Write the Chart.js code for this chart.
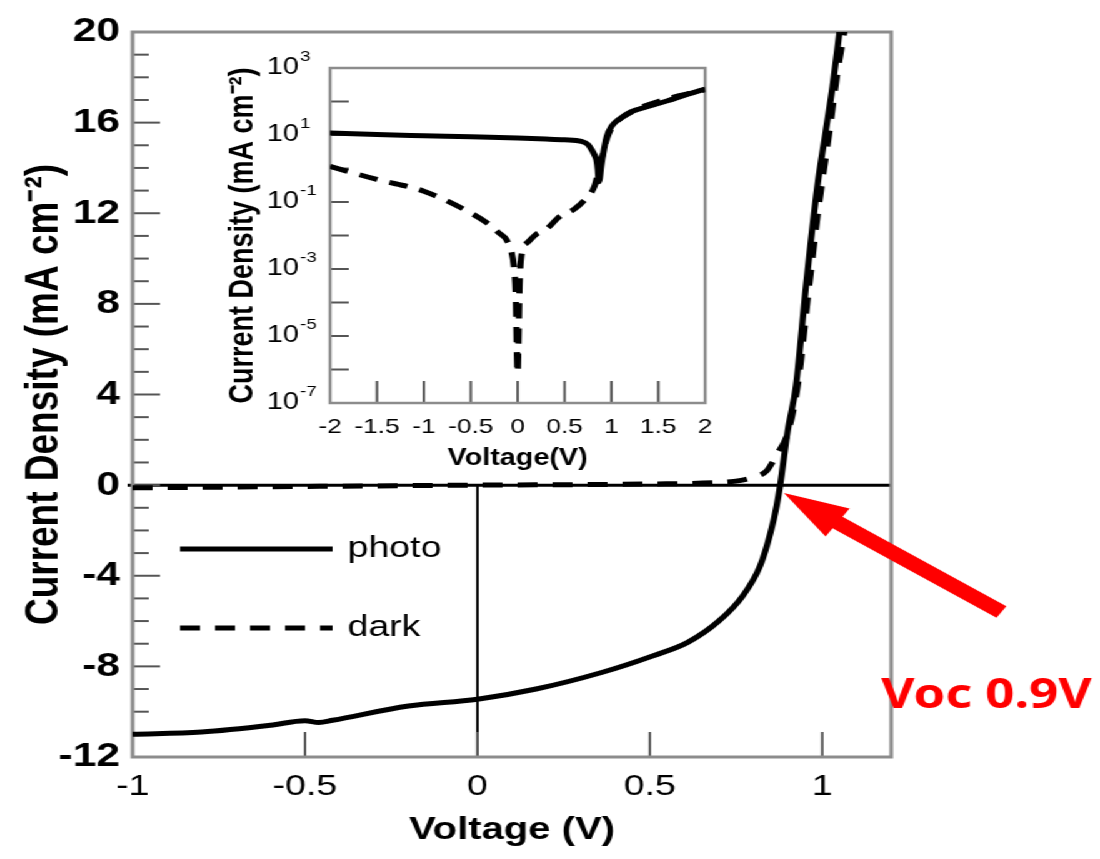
<!DOCTYPE html>
<html>
<head>
<meta charset="utf-8">
<title>Current density vs voltage</title>
<script src="https://cdn.jsdelivr.net/npm/chart.js@4.4.1/dist/chart.umd.min.js"></script>
<style>
  html, body { margin: 0; padding: 0; background: #fff; overflow: hidden; }
  /* the original figure is stretched horizontally */
  #stage { position: absolute; left: 0; top: 0; width: 880px; height: 859px; transform: scaleX(1.25); transform-origin: 0 0; }
  #main { position: absolute; left: 0; top: 0; }
  #inset { position: absolute; left: 172px; top: 40px; }
</style>
</head>
<body>
<div id="stage">
  <canvas id="main" width="880" height="859"></canvas>
  <canvas id="inset" width="410" height="440"></canvas>
</div>
<script>
// main plot: current density (linear), voltage in V
const photoV = [-1, -0.8, -0.6, -0.5, -0.46, -0.42, -0.2, 0, 0.17, 0.36, 0.51, 0.61, 0.7, 0.77, 0.82, 0.85, 0.868, 0.878, 0.9, 0.924, 0.953, 0.986, 1.01, 1.03, 1.05];
const photoJ = [-11.0, -10.9, -10.6, -10.4, -10.48, -10.38, -9.75, -9.45, -9.0, -8.27, -7.53, -6.94, -6.0, -4.88, -3.56, -2.1, -0.9, 0, 2.4, 4.4, 8.8, 13.2, 15.6, 17.6, 20];
const darkV = [-1, -0.5, 0, 0.5, 0.7, 0.76, 0.8, 0.84, 0.87, 0.9, 0.93, 0.96, 0.99, 1.02, 1.045, 1.07];
const darkJ = [-0.12, -0.06, 0.0, 0.05, 0.12, 0.2, 0.35, 0.65, 1.4, 2.3, 4.5, 8.5, 12.3, 15.5, 18.3, 20.5];

// inset: |J| on a log scale
const insetPhotoV = [-2, -1.5, -1, -0.5, 0, 0.3, 0.5, 0.68, 0.75, 0.79, 0.82, 0.84, 0.855, 0.865, 0.875, 0.89, 0.92, 0.95, 1.0, 1.1, 1.2, 1.4, 1.6, 1.8, 2.0];
const insetPhotoJ = [11.5, 10.3, 9.5, 8.8, 8.1, 7.6, 7.2, 6.5, 5.2, 3.6, 2.5, 1.8, 0.9, 0.4, 0.5, 1.15, 3.6, 9, 18, 32, 48, 72, 105, 160, 235];
const insetDarkV = [-2, -1.5, -1, -0.5, -0.3, -0.2, -0.12, -0.07, -0.04, -0.02, -0.008, 0, 0.008, 0.02, 0.05, 0.1, 0.2, 0.3, 0.45, 0.6, 0.72, 0.82, 0.86, 0.9, 0.95, 1.0, 1.2, 1.5, 2.0];
const insetDarkJ = [1.15, 0.47, 0.21, 0.047, 0.021, 0.012, 0.0075, 0.0035, 0.0012, 1.5e-4, 3e-6, 8e-7, 5e-6, 3e-4, 3.5e-3, 6e-3, 0.011, 0.015, 0.037, 0.06, 0.12, 0.3, 0.8, 2.2, 7.5, 16, 46, 100, 225];

// tick labels
const mainXTicks = [-1, -0.5, 0, 0.5, 1];
const mainYTicks = [-12, -8, -4, 0, 4, 8, 12, 16, 20];
const insetXTicks = [-2, -1.5, -1, -0.5, 0, 0.5, 1, 1.5, 2];
const insetYExponents = [3, 1, -1, -3, -5, -7];

const seriesNames = ['photo', 'dark'];
const vocLabel = 'Voc 0.9V';
const vocValue = 0.889;

Chart.defaults.font.family = '"Liberation Sans", Arial, sans-serif';
Chart.defaults.color = '#000';

const toPoints = (xs, ys) => xs.map((x, i) => ({ x: x, y: ys[i] }));
const frameColor = '#8c8c8c';
const tickColor = '#555';

function line(ctx, x1, y1, x2, y2) {
  ctx.beginPath();
  ctx.moveTo(x1, y1);
  ctx.lineTo(x2, y2);
  ctx.stroke();
}

// zero lines, inner ticks, frame, legend and the Voc arrow
const mainDecor = {
  id: 'mainDecor',
  beforeDatasetsDraw(chart) {
    const { ctx, chartArea: a, scales: { x, y } } = chart;
    const y0 = y.getPixelForValue(0);
    const x0 = x.getPixelForValue(0);
    ctx.save();
    ctx.strokeStyle = '#000';
    ctx.lineWidth = 3;
    line(ctx, a.left - 4, y0, a.right, y0);
    ctx.lineWidth = 2;
    line(ctx, x0, y0, x0, a.bottom);

    ctx.strokeStyle = tickColor;
    ctx.lineWidth = 2;
    for (let v = y.min; v <= y.max; v++) {
      const len = v % 4 === 0 ? 22 : 13;
      const py = y.getPixelForValue(v);
      line(ctx, a.left, py, a.left + len, py);
    }
    mainXTicks.forEach(v => {
      const px = x.getPixelForValue(v);
      line(ctx, px, a.bottom, px, a.bottom - 25);
    });

    ctx.strokeStyle = frameColor;
    ctx.lineWidth = 3;
    ctx.strokeRect(a.left, a.top, a.width, a.height);
    ctx.restore();
  },
  afterDraw(chart) {
    const { ctx, chartArea: a, scales: { x, y } } = chart;
    ctx.save();

    // legend inside the plot
    const lx = a.left + 38;
    chart.data.datasets.forEach((ds, i) => {
      const ly = a.top + 517 + i * 79;
      ctx.strokeStyle = '#000';
      ctx.lineWidth = 5;
      ctx.setLineDash(ds.borderDash || []);
      line(ctx, lx, ly, lx + 122, ly);
      ctx.setLineDash([]);
      ctx.fillStyle = '#000';
      ctx.font = '30px "Liberation Sans", Arial, sans-serif';
      ctx.textAlign = 'left';
      ctx.textBaseline = 'middle';
      ctx.fillText(seriesNames[i], lx + 134, ly);
    });

    // red arrow pointing at Voc
    const tip = { x: x.getPixelForValue(vocValue), y: y.getPixelForValue(-0.35) };
    const tail = { x: tip.x + 174, y: tip.y + 119 };
    const dx = tip.x - tail.x, dy = tip.y - tail.y;
    const len = Math.hypot(dx, dy);
    const ux = dx / len, uy = dy / len;
    const nx = -uy, ny = ux;
    const bx = tip.x - ux * 52, by = tip.y - uy * 52;
    ctx.fillStyle = '#ff0000';
    ctx.beginPath();
    ctx.moveTo(tail.x + nx * 7, tail.y + ny * 7);
    ctx.lineTo(bx + nx * 7, by + ny * 7);
    ctx.lineTo(bx + nx * 17, by + ny * 17);
    ctx.lineTo(tip.x, tip.y);
    ctx.lineTo(bx - nx * 17, by - ny * 17);
    ctx.lineTo(bx - nx * 7, by - ny * 7);
    ctx.lineTo(tail.x - nx * 7, tail.y - ny * 7);
    ctx.closePath();
    ctx.fill();

    ctx.font = 'bold 41px "Noto Sans", sans-serif';
    ctx.textAlign = 'left';
    ctx.textBaseline = 'alphabetic';
    ctx.fillText(vocLabel, a.right - 8, y.getPixelForValue(-9.85));
    ctx.restore();
  }
};

new Chart(document.getElementById('main'), {
  type: 'line',
  data: {
    datasets: [
      {
        label: seriesNames[0],
        data: toPoints(photoV, photoJ),
        borderColor: '#000',
        borderWidth: 5,
        pointRadius: 0,
        cubicInterpolationMode: 'monotone',
        fill: false
      },
      {
        label: seriesNames[1],
        data: toPoints(darkV, darkJ),
        borderColor: '#000',
        borderWidth: 5,
        borderDash: [16, 12],
        pointRadius: 0,
        cubicInterpolationMode: 'monotone',
        fill: false
      }
    ]
  },
  options: {
    responsive: false,
    animation: false,
    layout: { padding: { top: 32, right: 167, left: 0, bottom: 0 } },
    plugins: { legend: { display: false }, tooltip: { enabled: false } },
    scales: {
      x: {
        type: 'linear',
        min: -1,
        max: 1.2,
        grid: { display: false, drawTicks: false },
        border: { display: false },
        afterBuildTicks: s => { s.ticks = mainXTicks.map(v => ({ value: v })); },
        afterFit: s => { s.height = 102; },
        ticks: { padding: 12, font: { size: 30 }, maxRotation: 0, autoSkip: false, callback: v => String(v) },
        title: { display: true, text: 'Voltage (V)', font: { size: 32, weight: 'bold' }, padding: { top: 0, bottom: 10 } }
      },
      y: {
        min: -12,
        max: 20,
        grid: { display: false, drawTicks: false },
        border: { display: false },
        afterBuildTicks: s => { s.ticks = mainYTicks.map(v => ({ value: v })); },
        afterFit: s => { s.width = 106; },
        ticks: { padding: 10, font: { size: 34, weight: 'bold' }, autoSkip: false, callback: v => String(v) },
        title: { display: true, text: 'Current Density (mA cm\u207B\u00B2)', font: { size: 37, weight: 'bold' }, padding: { top: 14, bottom: 0 } }
      }
    }
  },
  plugins: [mainDecor]
});

// inset: frame, inner ticks and 10^n labels
const insetDecor = {
  id: 'insetDecor',
  beforeDatasetsDraw(chart) {
    const { ctx, chartArea: a, scales: { x, y } } = chart;
    ctx.save();
    ctx.strokeStyle = tickColor;
    ctx.lineWidth = 2;
    insetXTicks.slice(1, -1).forEach(v => {
      const px = x.getPixelForValue(v);
      line(ctx, px, a.bottom, px, a.bottom - 22);
    });
    for (let e = -6; e <= 2; e++) {
      const py = y.getPixelForValue(Math.pow(10, e));
      line(ctx, a.left, py, a.left + 15, py);
    }
    ctx.strokeStyle = frameColor;
    ctx.lineWidth = 2.5;
    ctx.strokeRect(a.left, a.top, a.width, a.height);

    ctx.fillStyle = '#000';
    ctx.textBaseline = 'middle';
    insetYExponents.forEach(e => {
      const py = y.getPixelForValue(Math.pow(10, e));
      ctx.font = '23px "Liberation Sans", Arial, sans-serif';
      ctx.textAlign = 'right';
      ctx.fillText('10', a.left - 25, py);
      ctx.font = '15px "Liberation Sans", Arial, sans-serif';
      ctx.textAlign = 'left';
      ctx.fillText(String(e), a.left - 24, py - 11);
    });
    ctx.restore();
  }
};

new Chart(document.getElementById('inset'), {
  type: 'line',
  data: {
    datasets: [
      {
        label: seriesNames[1],
        data: toPoints(insetDarkV, insetDarkJ),
        borderColor: '#000',
        borderWidth: 5,
        borderDash: [15, 10],
        pointRadius: 0,
        cubicInterpolationMode: 'monotone',
        fill: false
      },
      {
        label: seriesNames[0],
        data: toPoints(insetPhotoV, insetPhotoJ),
        borderColor: '#000',
        borderWidth: 5,
        pointRadius: 0,
        cubicInterpolationMode: 'monotone',
        fill: false
      }
    ]
  },
  options: {
    responsive: false,
    animation: false,
    layout: { padding: { top: 28, right: 12, left: 0, bottom: 0 } },
    plugins: { legend: { display: false }, tooltip: { enabled: false } },
    scales: {
      x: {
        type: 'linear',
        min: -2,
        max: 2,
        grid: { display: false, drawTicks: false },
        border: { display: false },
        afterBuildTicks: s => { s.ticks = insetXTicks.map(v => ({ value: v })); },
        afterFit: s => { s.height = 77; },
        ticks: { padding: 12, font: { size: 21 }, maxRotation: 0, autoSkip: false, callback: v => String(v) },
        title: { display: true, text: 'Voltage(V)', font: { size: 23, weight: 'bold' }, padding: { top: 0, bottom: 8 } }
      },
      y: {
        type: 'logarithmic',
        min: 1e-7,
        max: 1e3,
        grid: { display: false, drawTicks: false },
        border: { display: false },
        afterFit: s => { s.width = 92; },
        ticks: { display: false },
        title: { display: true, text: 'Current Density (mA cm\u207B\u00B2)', font: { size: 27, weight: 'bold' }, padding: { top: 6, bottom: 0 } }
      }
    }
  },
  plugins: [insetDecor]
});
</script>
</body>
</html>
